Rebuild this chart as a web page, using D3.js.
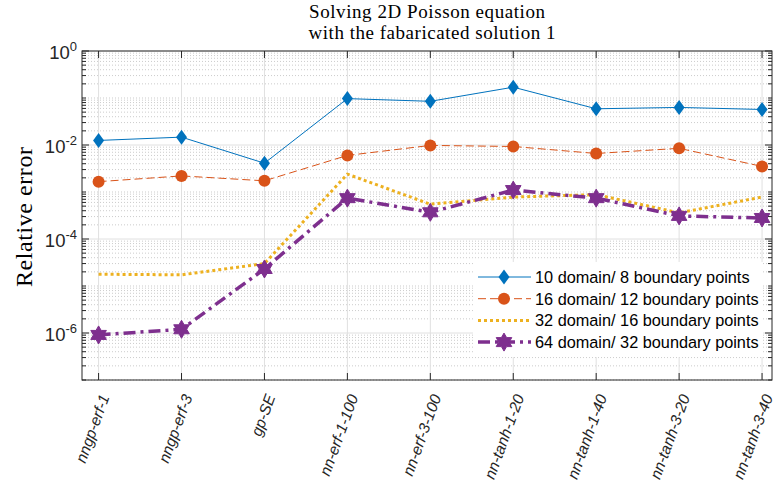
<!DOCTYPE html>
<html>
  <head>
    <meta charset="UTF-8">
    <title>Solving 2D Poisson equation</title>
    <style>
      body { margin: 0; background: #fff; }
      svg { display: block; }
    </style>
  </head>
  <body>
    <svg></svg>
    <script src="https://d3js.org/d3.v7.min.js"></script>
    <script>

/* DATA */
var categories = ["nngp-erf-1", "nngp-erf-3", "gp-SE", "nn-erf-1-100", "nn-erf-3-100",
                  "nn-tanh-1-20", "nn-tanh-1-40", "nn-tanh-3-20", "nn-tanh-3-40"];

var err10 = [1.25e-2, 1.47e-2, 4.1e-3, 9.7e-2, 8.5e-2, 0.17, 5.9e-2, 6.3e-2, 5.7e-2];
var err16 = [1.66e-3, 2.2e-3, 1.73e-3, 6.0e-3, 9.8e-3, 9.3e-3, 6.6e-3, 8.5e-3, 3.5e-3];
var err32 = [1.78e-5, 1.73e-5, 3.0e-5, 2.4e-3, 5.5e-4, 7.8e-4, 8.8e-4, 3.6e-4, 7.8e-4];
var err64 = [9.1e-7, 1.2e-6, 2.3e-5, 7.4e-4, 3.7e-4, 1.1e-3, 7.4e-4, 3.1e-4, 2.8e-4];

var seriesNames = ["10 domain/ 8 boundary points", "16 domain/ 12 boundary points",
                   "32 domain/ 16 boundary points", "64 domain/ 32 boundary points"];

var yTicks = [1e-6, 1e-4, 1e-2, 1];

var config = {
  width: 777,
  height: 492,
  plot: { left: 82, right: 772, top: 51, bottom: 380 }
};

// marker paths
function diamond(w, h) {
  return "M0," + (-h) + "L" + w + ",0L0," + h + "L" + (-w) + ",0Z";
}
function hexagram(R) {
  var r = R / Math.sqrt(3), p = [];
  for (var i = 0; i < 12; i++) {
    var a = -Math.PI / 2 + i * Math.PI / 6, rr = i % 2 ? r : R;
    p.push([rr * Math.cos(a), rr * Math.sin(a)]);
  }
  return "M" + p.map(function(d) { return d[0].toFixed(2) + "," + d[1].toFixed(2); }).join("L") + "Z";
}

var series = [
  { name: seriesNames[0], values: err10, color: "#0072BD", width: 1,   dash: null,        marker: "diamond" },
  { name: seriesNames[1], values: err16, color: "#D95319", width: 1,   dash: "8,4",       marker: "circle" },
  { name: seriesNames[2], values: err32, color: "#EDB120", width: 3,   dash: "3,3",       marker: null },
  { name: seriesNames[3], values: err64, color: "#7E2F8E", width: 3.5, dash: "12,5,3,5",  marker: "star" }
];

function drawMarker(sel, type, color) {
  if (type === "diamond") {
    sel.append("path").attr("d", diamond(5.5, 7.5)).attr("fill", color);
  } else if (type === "circle") {
    sel.append("circle").attr("r", 6).attr("fill", color);
  } else if (type === "star") {
    sel.append("path").attr("d", hexagram(9)).attr("fill", color)
      .attr("stroke", color).attr("stroke-width", 1).attr("stroke-linejoin", "round");
  }
}

var svg = d3.select("svg")
  .attr("width", config.width)
  .attr("height", config.height);

var P = config.plot;

var x = d3.scaleLinear().domain([0.8, 9.12]).range([P.left, P.right]);
var y = d3.scaleLog().domain([1e-7, 1]).range([P.bottom, P.top]);

// grid
var grid = svg.append("g");
var minor = [];
for (var e = -7; e < 0; e++) {
  for (var m = 1; m <= 9; m++) {
    var v = m * Math.pow(10, e);
    if (yTicks.indexOf(v) < 0 && !(m === 1 && e % 2 === 0)) minor.push(v);
  }
}
grid.selectAll(".minor").data(minor).enter().append("line")
  .attr("x1", P.left).attr("x2", P.right)
  .attr("y1", function(d) { return y(d); }).attr("y2", function(d) { return y(d); })
  .attr("stroke", "#b5b5b5").attr("stroke-width", 0.7).attr("stroke-dasharray", "1,2");
grid.selectAll(".majy").data(yTicks).enter().append("line")
  .attr("x1", P.left).attr("x2", P.right)
  .attr("y1", function(d) { return y(d); }).attr("y2", function(d) { return y(d); })
  .attr("stroke", "#e0e0e0").attr("stroke-width", 1);
grid.selectAll(".majx").data(categories).enter().append("line")
  .attr("y1", P.top).attr("y2", P.bottom)
  .attr("x1", function(d, i) { return x(i + 1); }).attr("x2", function(d, i) { return x(i + 1); })
  .attr("stroke", "#e0e0e0").attr("stroke-width", 1);

// lines
var line = d3.line()
  .x(function(d, i) { return x(i + 1); })
  .y(function(d) { return y(d); });

series.forEach(function(s) {
  svg.append("path")
    .attr("d", line(s.values))
    .attr("fill", "none")
    .attr("stroke", s.color)
    .attr("stroke-width", s.width)
    .attr("stroke-dasharray", s.dash);
  if (s.marker) {
    s.values.forEach(function(v, i) {
      var g = svg.append("g").attr("transform", "translate(" + x(i + 1) + "," + y(v) + ")");
      drawMarker(g, s.marker, s.color);
    });
  }
});

// axes box and ticks
var ax = svg.append("g").attr("stroke", "#262626").attr("stroke-width", 1);
ax.append("rect")
  .attr("x", P.left).attr("y", P.top)
  .attr("width", P.right - P.left).attr("height", P.bottom - P.top)
  .attr("fill", "none");

var allMinor = [];
for (var e2 = -7; e2 < 0; e2++) {
  for (var m2 = 1; m2 <= 9; m2++) {
    var v2 = m2 * Math.pow(10, e2);
    if (yTicks.indexOf(v2) < 0) allMinor.push(v2);
  }
}
[P.left, P.right].forEach(function(x0, k) {
  var dir = k === 0 ? 1 : -1;
  ax.selectAll(null).data(allMinor).enter().append("line")
    .attr("x1", x0).attr("x2", x0 + dir * 4)
    .attr("y1", function(d) { return y(d); }).attr("y2", function(d) { return y(d); });
  ax.selectAll(null).data(yTicks).enter().append("line")
    .attr("x1", x0).attr("x2", x0 + dir * 7)
    .attr("y1", function(d) { return y(d); }).attr("y2", function(d) { return y(d); });
});
[P.bottom, P.top].forEach(function(y0, k) {
  var dir = k === 0 ? -1 : 1;
  ax.selectAll(null).data(categories).enter().append("line")
    .attr("y1", y0).attr("y2", y0 + dir * 7)
    .attr("x1", function(d, i) { return x(i + 1); }).attr("x2", function(d, i) { return x(i + 1); });
});

// y tick labels 10^n
var yl = svg.append("g")
  .attr("font-family", "Liberation Sans, Arial, sans-serif")
  .attr("fill", "#262626");
yTicks.forEach(function(t) {
  var ex = Math.round(Math.log10(t));
  var txt = yl.append("text")
    .attr("x", 77).attr("y", y(t) + 8)
    .attr("text-anchor", "end")
    .attr("font-size", 18.5);
  txt.append("tspan").text("10");
  txt.append("tspan").attr("font-size", 13).attr("dy", -8).text(ex === 0 ? "0" : "-" + Math.abs(ex));
});

// x tick labels (rotated)
svg.append("g")
  .attr("font-family", "Liberation Sans, Arial, sans-serif")
  .attr("font-size", 15.5)
  .attr("font-style", "italic")
  .attr("fill", "#262626")
  .selectAll("text").data(categories).enter().append("text")
  .attr("transform", function(d, i) { return "translate(" + (x(i + 1) + 6) + "," + (P.bottom + 15) + ") rotate(-70)"; })
  .attr("text-anchor", "end")
  .attr("dy", "0.35em")
  .text(function(d) { return d; });

// title
var title = svg.append("text")
  .attr("font-family", "Liberation Serif, Times New Roman, serif")
  .attr("font-size", 19)
  .attr("fill", "#000")
  .attr("text-anchor", "middle");
title.append("tspan").attr("x", 427).attr("y", 18).attr("textLength", 236).text("Solving 2D Poisson equation");
title.append("tspan").attr("x", 432).attr("y", 39).attr("textLength", 247).text("with the fabaricated solution 1");

// y label
svg.append("text")
  .attr("transform", "translate(32,217) rotate(-90)")
  .attr("text-anchor", "middle")
  .attr("font-family", "Liberation Serif, Times New Roman, serif")
  .attr("font-size", 24)
  .attr("textLength", 140)
  .text("Relative error");

// legend
var legend = svg.append("g");
legend.append("rect")
  .attr("x", 473).attr("y", 262).attr("width", 290).attr("height", 95)
  .attr("fill", "#fff");
var rows = legend.selectAll(".row").data(series).enter().append("g")
  .attr("transform", function(d, i) { return "translate(0," + (277 + i * 21.7) + ")"; });
rows.append("line")
  .attr("x1", 478).attr("x2", 531).attr("y1", 0).attr("y2", 0)
  .attr("stroke", function(d) { return d.color; })
  .attr("stroke-width", function(d) { return d.width; })
  .attr("stroke-dasharray", function(d) { return d.dash; });
rows.each(function(d) {
  if (d.marker) drawMarker(d3.select(this).append("g").attr("transform", "translate(504,0)"), d.marker, d.color);
});
rows.append("text")
  .attr("x", 535).attr("y", 6)
  .attr("font-family", "Liberation Sans, Arial, sans-serif")
  .attr("font-size", 16.3)
  .attr("fill", "#000")
  .text(function(d) { return d.name; });

    </script>
  </body>
</html>
